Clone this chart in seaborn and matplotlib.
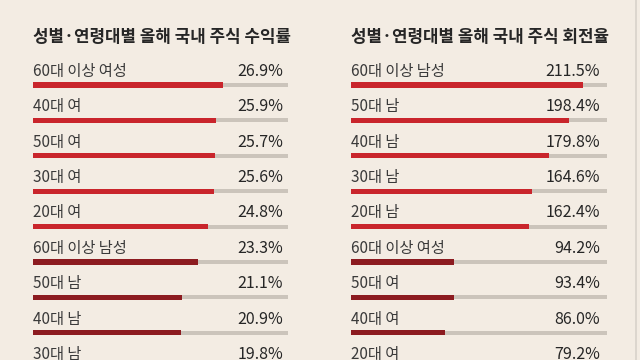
import matplotlib
matplotlib.use('Agg')
import matplotlib.pyplot as plt
import seaborn as sns
from matplotlib.lines import Line2D

sns.set_style('white')
plt.rcParams['font.family'] = ['Noto Sans CJK KR', 'DejaVu Sans']

# 수익률 (left panel)
return_title = '성별·연령대별 올해 국내 주식 수익률'
return_groups = ['60대 이상 여성', '40대 여', '50대 여', '30대 여', '20대 여',
                 '60대 이상 남성', '50대 남', '40대 남', '30대 남']
return_values = [26.9, 25.9, 25.7, 25.6, 24.8, 23.3, 21.1, 20.9, 19.8]

# 회전율 (right panel)
turnover_title = '성별·연령대별 올해 국내 주식 회전율'
turnover_groups = ['60대 이상 남성', '50대 남', '40대 남', '30대 남', '20대 남',
                   '60대 이상 여성', '50대 여', '40대 여', '20대 여']
turnover_values = [211.5, 198.4, 179.8, 164.6, 162.4, 94.2, 93.4, 86.0, 79.2]

BG = '#f3ece3'
TRACK = '#cbc4bb'
BRIGHT = '#c9252c'
DARK = '#8c1b20'
TEXT = '#262626'

W, H = 640, 360
ROW = 35.4      # px between rows
FIRST = 85      # px, centre of first bar


def panel(ax, title, groups, values, scale_max, val_x):
    track = [scale_max] * len(groups)
    # top five rows bright red, the rest dark red
    colors = [BRIGHT] * 5 + [DARK] * (len(groups) - 5)
    sns.barplot(x=track, y=groups, color=TRACK, width=0.11, saturation=1,
                linewidth=0, orient='h', ax=ax)
    sns.barplot(x=values, y=groups, hue=groups, palette=colors, width=0.15,
                saturation=1, linewidth=0, orient='h', legend=False, ax=ax)
    ax.set_xlim(0, scale_max)
    ax.set_ylim((H - FIRST) / ROW, -FIRST / ROW)
    ax.axis('off')
    tr = ax.get_yaxis_transform()
    for i, (g, v) in enumerate(zip(groups, values)):
        ax.text(0, i - 0.26, g, transform=tr, fontsize=11, color='#3a3a3a',
                fontweight='light', va='baseline', ha='left')
        ax.text(val_x, i - 0.26, f'{v:.1f}%', transform=tr, fontsize=11.5,
                color=TEXT, fontweight='medium', va='baseline', ha='right')
    ax.text(0, -1.22, title, transform=tr, fontsize=12.1, color=TEXT,
            fontweight='bold', va='baseline', ha='left')


fig = plt.figure(figsize=(W / 100, H / 100), dpi=100, facecolor=BG)
ax_l = fig.add_axes([33 / W, 0, 255 / W, 1])
ax_r = fig.add_axes([351 / W, 0, 256 / W, 1])
for ax in (ax_l, ax_r):
    ax.set_facecolor('none')

panel(ax_l, return_title, return_groups, return_values, 36.1, 0.98)
panel(ax_r, turnover_title, turnover_groups, turnover_values, 233, 0.973)

fig.add_artist(Line2D([636 / W, 636 / W], [0, 1], color='#d8d2ca', lw=1.2))

fig.savefig('out.png', dpi=100, facecolor=BG)
